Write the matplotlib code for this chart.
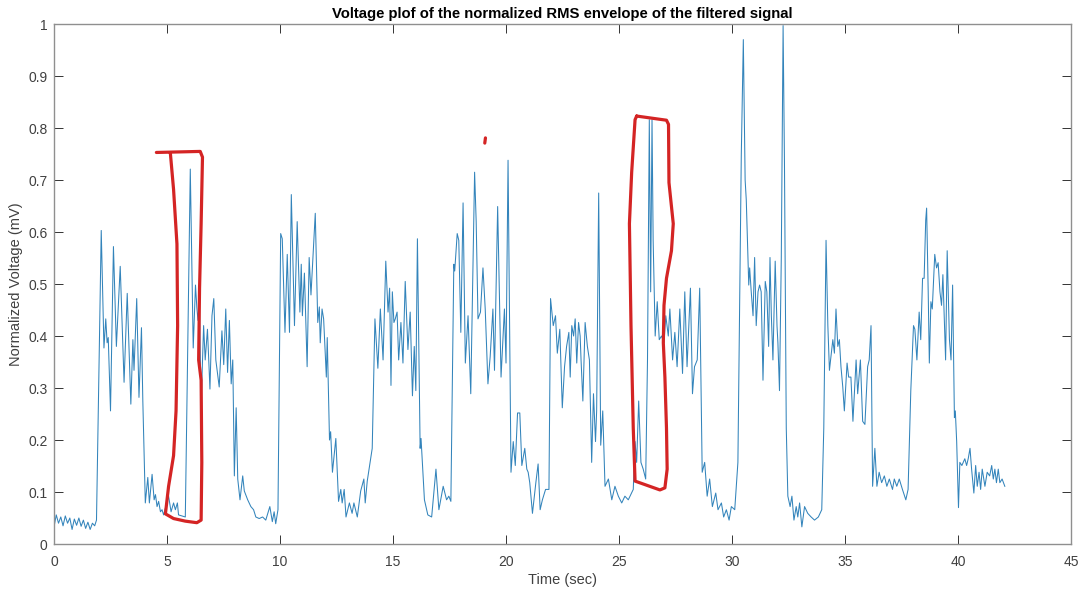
import matplotlib
matplotlib.use("Agg")
import matplotlib.pyplot as plt

plt.rcParams['font.family'] = ['Liberation Sans', 'DejaVu Sans']

# ---- data: time (sec) and normalized voltage ----
time_s = [
    0.00, 0.10, 0.20, 0.30, 0.40, 0.50, 0.60, 0.70, 0.80, 0.90, 1.00, 1.10, 1.20, 1.30, 1.40,
    1.50, 1.60, 1.70, 1.80, 1.88, 2.09, 2.21, 2.29, 2.35, 2.40, 2.50, 2.63, 2.76, 2.93, 3.10,
    3.24, 3.40, 3.49, 3.54, 3.66, 3.76, 3.87, 3.93, 4.04, 4.15, 4.22, 4.34, 4.43, 4.49, 4.56,
    4.63, 4.71, 4.78, 4.85, 5.07, 5.18, 5.29, 5.37, 5.46, 5.51, 5.81, 6.03, 6.16, 6.26, 6.32,
    6.37, 6.43, 6.51, 6.62, 6.69, 6.79, 6.90, 6.99, 7.07, 7.16, 7.31, 7.43, 7.51, 7.60, 7.68,
    7.76, 7.84, 7.91, 7.98, 8.06, 8.13, 8.23, 8.35, 8.42, 8.57, 8.71, 8.83, 8.93, 9.08, 9.23,
    9.37, 9.55, 9.66, 9.74, 9.81, 9.91, 10.03, 10.10, 10.22, 10.32, 10.42, 10.50, 10.64, 10.76,
    10.88, 10.94, 10.99, 11.08, 11.20, 11.29, 11.37, 11.56, 11.67, 11.74, 11.78, 11.86, 11.93,
    12.05, 12.09, 12.19, 12.24, 12.32, 12.47, 12.59, 12.69, 12.75, 12.84, 12.92, 13.07, 13.19,
    13.27, 13.42, 13.57, 13.71, 13.77, 13.86, 14.01, 14.08, 14.20, 14.33, 14.44, 14.56, 14.68,
    14.78, 14.85, 14.91, 14.97, 15.04, 15.10, 15.18, 15.25, 15.35, 15.44, 15.54, 15.66, 15.76,
    15.86, 15.94, 16.01, 16.08, 16.20, 16.24, 16.39, 16.54, 16.71, 16.90, 17.03, 17.22, 17.37,
    17.47, 17.56, 17.69, 17.73, 17.84, 17.91, 18.00, 18.10, 18.20, 18.32, 18.44, 18.61, 18.68,
    18.76, 18.87, 18.98, 19.08, 19.20, 19.30, 19.42, 19.49, 19.63, 19.78, 19.93, 20.00, 20.09,
    20.22, 20.32, 20.41, 20.51, 20.61, 20.70, 20.83, 20.92, 20.98, 21.05, 21.17, 21.32, 21.42,
    21.51, 21.61, 21.75, 21.90, 21.97, 22.09, 22.19, 22.27, 22.38, 22.49, 22.59, 22.68, 22.78,
    22.84, 22.91, 22.99, 23.06, 23.13, 23.21, 23.28, 23.32, 23.40, 23.50, 23.60, 23.69, 23.79,
    23.87, 23.96, 24.01, 24.10, 24.19, 24.28, 24.38, 24.53, 24.68, 24.82, 24.97, 25.12, 25.26,
    25.41, 25.63, 25.71, 25.78, 25.87, 25.97, 26.07, 26.18, 26.26, 26.34, 26.40, 26.46, 26.51,
    26.60, 26.69, 26.78, 26.88, 26.99, 27.07, 27.18, 27.25, 27.37, 27.47, 27.57, 27.69, 27.81,
    27.91, 28.01, 28.16, 28.25, 28.34, 28.46, 28.57, 28.68, 28.79, 28.90, 29.01, 29.13, 29.28,
    29.38, 29.53, 29.63, 29.75, 29.87, 29.97, 30.12, 30.26, 30.41, 30.50, 30.58, 30.63, 30.74,
    30.78, 30.85, 30.93, 31.00, 31.07, 31.15, 31.22, 31.29, 31.37, 31.47, 31.54, 31.62, 31.68,
    31.74, 31.81, 31.91, 31.99, 32.03, 32.10, 32.18, 32.26, 32.32, 32.40, 32.47, 32.57, 32.65,
    32.74, 32.84, 32.91, 32.99, 33.09, 33.21, 33.35, 33.50, 33.65, 33.82, 33.97, 34.06, 34.16,
    34.24, 34.31, 34.38, 34.46, 34.53, 34.60, 34.68, 34.75, 34.82, 34.90, 34.97, 35.09, 35.16,
    35.26, 35.35, 35.49, 35.56, 35.68, 35.78, 35.88, 36.00, 36.07, 36.15, 36.22, 36.32, 36.41,
    36.51, 36.62, 36.74, 36.85, 36.96, 37.10, 37.18, 37.29, 37.40, 37.54, 37.69, 37.79, 37.91,
    38.03, 38.09, 38.18, 38.28, 38.35, 38.43, 38.50, 38.57, 38.61, 38.68, 38.73, 38.80, 38.86,
    38.97, 39.05, 39.12, 39.20, 39.27, 39.33, 39.45, 39.52, 39.62, 39.69, 39.76, 39.84, 39.88,
    39.94, 40.02, 40.08, 40.17, 40.23, 40.30, 40.38, 40.45, 40.53, 40.60, 40.70, 40.78, 40.85,
    40.93, 41.00, 41.07, 41.19, 41.29, 41.40, 41.49, 41.56, 41.63, 41.70, 41.78, 41.85, 41.95,
    42.07,
]
voltage = [
    0.033, 0.056, 0.040, 0.052, 0.035, 0.054, 0.040, 0.050, 0.028, 0.048, 0.036, 0.050, 0.034, 0.046, 0.030,
    0.042, 0.028, 0.040, 0.035, 0.046, 0.603, 0.377, 0.433, 0.387, 0.397, 0.256, 0.572, 0.380, 0.534, 0.311,
    0.482, 0.269, 0.393, 0.334, 0.472, 0.282, 0.416, 0.275, 0.079, 0.128, 0.079, 0.134, 0.085, 0.095, 0.072,
    0.082, 0.062, 0.066, 0.056, 0.092, 0.062, 0.079, 0.066, 0.079, 0.056, 0.052, 0.721, 0.377, 0.498, 0.455,
    0.430, 0.470, 0.269, 0.420, 0.354, 0.413, 0.298, 0.439, 0.472, 0.354, 0.302, 0.410, 0.345, 0.452, 0.330,
    0.430, 0.308, 0.354, 0.131, 0.262, 0.125, 0.085, 0.131, 0.102, 0.085, 0.072, 0.066, 0.052, 0.049, 0.052,
    0.046, 0.072, 0.043, 0.062, 0.039, 0.066, 0.597, 0.587, 0.407, 0.557, 0.407, 0.672, 0.420, 0.620,
    0.446, 0.538, 0.439, 0.521, 0.341, 0.551, 0.479, 0.636, 0.426, 0.456, 0.387, 0.452, 0.433,
    0.321, 0.397, 0.200, 0.216, 0.138, 0.203, 0.082, 0.105, 0.079, 0.105, 0.052, 0.079, 0.059,
    0.079, 0.052, 0.102, 0.125, 0.079, 0.121, 0.164, 0.184, 0.433, 0.338, 0.452, 0.354, 0.544,
    0.446, 0.492, 0.305, 0.485, 0.426, 0.433, 0.446, 0.354, 0.426, 0.348, 0.505, 0.374, 0.446,
    0.285, 0.380, 0.295, 0.587, 0.184, 0.203, 0.085, 0.056, 0.052, 0.144, 0.066, 0.111, 0.085,
    0.092, 0.082, 0.538, 0.525, 0.597, 0.584, 0.407, 0.656, 0.348, 0.439, 0.289, 0.715, 0.620,
    0.433, 0.446, 0.531, 0.452, 0.308, 0.361, 0.452, 0.334, 0.649, 0.321, 0.452, 0.348, 0.738,
    0.138, 0.197, 0.151, 0.252, 0.252, 0.151, 0.184, 0.144, 0.138, 0.118, 0.059, 0.118, 0.154,
    0.066, 0.085, 0.105, 0.105, 0.472, 0.420, 0.439, 0.367, 0.413, 0.262, 0.341, 0.380, 0.407,
    0.321, 0.420, 0.400, 0.433, 0.348, 0.426, 0.400, 0.354, 0.275, 0.426, 0.380, 0.354, 0.157,
    0.289, 0.197, 0.256, 0.675, 0.190, 0.256, 0.111, 0.125, 0.085, 0.111, 0.092, 0.079, 0.092,
    0.085, 0.105, 0.197, 0.157, 0.275, 0.157, 0.144, 0.125, 0.354, 0.816, 0.485, 0.816, 0.584,
    0.400, 0.466, 0.393, 0.400, 0.387, 0.439, 0.400, 0.452, 0.354, 0.407, 0.341, 0.452, 0.328,
    0.485, 0.341, 0.492, 0.289, 0.341, 0.354, 0.492, 0.138, 0.157, 0.092, 0.125, 0.072, 0.098,
    0.066, 0.079, 0.052, 0.066, 0.046, 0.072, 0.066, 0.157, 0.748, 0.970, 0.700, 0.662, 0.498,
    0.531, 0.485, 0.439, 0.551, 0.420, 0.485, 0.498, 0.485, 0.315, 0.505, 0.485, 0.380, 0.551,
    0.439, 0.354, 0.544, 0.420, 0.387, 0.295, 0.551, 0.997, 0.734, 0.223, 0.092, 0.072, 0.092,
    0.046, 0.072, 0.052, 0.079, 0.033, 0.072, 0.059, 0.052, 0.046, 0.052, 0.066, 0.223, 0.584,
    0.420, 0.334, 0.361, 0.393, 0.367, 0.452, 0.380, 0.393, 0.341, 0.302, 0.256, 0.348, 0.321,
    0.321, 0.236, 0.354, 0.289, 0.354, 0.236, 0.230, 0.341, 0.354, 0.420, 0.111, 0.184, 0.111,
    0.138, 0.118, 0.131, 0.111, 0.125, 0.105, 0.125, 0.111, 0.125, 0.105, 0.085, 0.105, 0.295,
    0.420, 0.413, 0.354, 0.446, 0.393, 0.511, 0.511, 0.623, 0.646, 0.485, 0.348, 0.466, 0.452,
    0.557, 0.531, 0.541, 0.485, 0.459, 0.518, 0.354, 0.564, 0.393, 0.354, 0.498, 0.243, 0.256,
    0.197, 0.070, 0.157, 0.151, 0.157, 0.164, 0.151, 0.164, 0.184, 0.144, 0.098, 0.151, 0.111,
    0.138, 0.105, 0.144, 0.111, 0.138, 0.131, 0.151, 0.125, 0.144, 0.118, 0.144, 0.118, 0.125,
    0.111,
]

# hand-drawn red annotation strokes (time, voltage)
mark1_t = [4.53, 6.47, 6.57, 6.51, 6.44, 6.40, 6.51, 6.54, 6.51, 6.32, 5.81, 5.29, 4.93,
           5.07, 5.29, 5.40, 5.47, 5.44, 5.29, 5.15]
mark1_v = [0.753, 0.755, 0.744, 0.616, 0.492, 0.354, 0.315, 0.157, 0.046, 0.041, 0.044, 0.049, 0.058,
           0.111, 0.170, 0.256, 0.420, 0.577, 0.682, 0.751]
mark2_t = [25.78, 27.10, 27.19, 27.21, 27.40, 27.32, 27.10, 26.99, 26.96, 27.03, 27.10, 27.13,
           27.03, 26.81, 25.71, 25.63, 25.53, 25.46, 25.56, 25.71, 25.78]
mark2_v = [0.823, 0.815, 0.807, 0.695, 0.616, 0.564, 0.511, 0.459, 0.387, 0.321, 0.223, 0.144,
           0.108, 0.104, 0.121, 0.223, 0.420, 0.616, 0.715, 0.816, 0.823]
mark3_t = [19.06, 19.09]
mark3_v = [0.771, 0.781]

x_ticks = [0, 5, 10, 15, 20, 25, 30, 35, 40, 45]
y_ticks = [0, 0.1, 0.2, 0.3, 0.4, 0.5, 0.6, 0.7, 0.8, 0.9, 1]
y_tick_labels = ['0', '0.1', '0.2', '0.3', '0.4', '0.5', '0.6', '0.7', '0.8', '0.9', '1']

fig = plt.figure(figsize=(10.8, 5.93), dpi=100)
ax = fig.add_axes([0.050, 0.0826, 0.9417, 0.8769])

ax.plot(time_s, voltage, color='#3384bb', lw=0.75)

red = '#d42424'
for mt, mv in ((mark1_t, mark1_v), (mark2_t, mark2_v), (mark3_t, mark3_v)):
    ax.plot(mt, mv, color=red, lw=2.3, solid_capstyle='round', solid_joinstyle='round')

ax.set_xlim(0, 45)
ax.set_ylim(0, 1)
ax.set_xticks(x_ticks)
ax.set_yticks(y_ticks)
ax.set_yticklabels(y_tick_labels)

for s in ax.spines.values():
    s.set_color('#8f8f8f')
    s.set_linewidth(1.0)
ax.tick_params(axis='both', direction='in', top=True, right=True, length=6.5, width=0.7,
               color='#333333', labelcolor='#404040', labelsize=10)
ax.tick_params(axis='x', pad=8)
ax.tick_params(axis='y', pad=4.5)

ax.set_title('Voltage plof of the normalized RMS envelope of the filtered signal',
             fontsize=10.7, fontweight='bold', color='black', pad=4)
ax.set_xlabel('Time (sec)', fontsize=10.5, color='#404040', labelpad=3)
ax.set_ylabel('Normalized Voltage (mV)', fontsize=10.5, color='#404040', labelpad=4)

fig.savefig('out.png', dpi=100, facecolor='white')
